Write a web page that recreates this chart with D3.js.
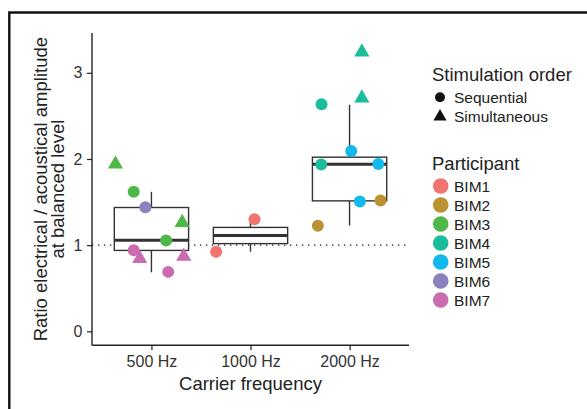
<!DOCTYPE html>
<html>
<head>
<meta charset="utf-8">
<script src="https://cdn.jsdelivr.net/npm/d3@7"></script>
<style>
  html, body { margin: 0; padding: 0; background: #fff; }
  svg { display: block; font-family: "Liberation Sans", Arial, Helvetica, sans-serif; }
</style>
</head>
<body>
<svg id="chart" width="587" height="409"></svg>
<script>
// ---- data ----
const categories = ["500 Hz", "1000 Hz", "2000 Hz"];
const yTicks = [0, 1, 2, 3];
const participants = ["BIM1", "BIM2", "BIM3", "BIM4", "BIM5", "BIM6", "BIM7"];
const participantColors = ["#F07470", "#BA9232", "#4DB848", "#1BBC9B", "#13B9EE", "#8B80C0", "#CB6CB0"];
const orders = ["Sequential", "Simultaneous"];

// box statistics per category
const boxLow    = [0.685, 0.924, 1.228];
const boxQ1     = [0.939, 1.018, 1.514];
const boxMedian = [1.057, 1.112, 1.939];
const boxQ3     = [1.437, 1.206, 2.021];
const boxHigh   = [1.619, 1.300, 2.630];

// points
const pointCategory    = [0,0,0,0,0,0,0,0,0, 1,1, 2,2,2,2,2,2,2,2,2];
const pointJitter      = [-0.363,-0.179,-0.061,0.310,0.148,-0.179,-0.118,0.326,0.169, 0.040,-0.347, 0.124,0.124,-0.283,0.017,-0.286,0.290,0.104,0.313,-0.320];
const pointValue       = [1.94,1.62,1.44,1.263,1.054,0.94,0.844,0.87,0.69, 1.30,0.924, 3.24,2.706,2.635,2.094,1.935,1.943,1.506,1.518,1.225];
const pointParticipant = ["BIM3","BIM3","BIM6","BIM3","BIM3","BIM7","BIM7","BIM7","BIM7", "BIM1","BIM1", "BIM4","BIM4","BIM4","BIM5","BIM4","BIM5","BIM5","BIM2","BIM2"];
const pointOrder       = ["Simultaneous","Sequential","Sequential","Simultaneous","Sequential","Sequential","Simultaneous","Simultaneous","Sequential", "Sequential","Sequential", "Simultaneous","Simultaneous","Sequential","Sequential","Sequential","Sequential","Sequential","Sequential","Sequential"];
const referenceLevel = 1;

// ---- drawing ----
const svg = d3.select("#chart");
const panel = {left: 92, right: 409, top: 33, bottom: 345.3};

const x = d3.scaleLinear().domain([0.4, 3.6]).range([panel.left, panel.right]);
const y = d3.scaleLinear().domain([-0.162, 3.462]).range([panel.bottom, panel.top]);
const color = d3.scaleOrdinal().domain(participants).range(participantColors);
const triSize = 100, circR = 6;

// outer frame
svg.append("path")
  .attr("d", "M9.3,409 L9.3,12.5 L587,12.5")
  .attr("fill", "none").attr("stroke", "#111").attr("stroke-width", 2.4);

// reference dotted line
svg.append("line")
  .attr("x1", panel.left).attr("x2", panel.right)
  .attr("y1", y(referenceLevel)).attr("y2", y(referenceLevel))
  .attr("stroke", "#111").attr("stroke-width", 1.3)
  .attr("stroke-dasharray", "1.3,4.7");

// boxes
const boxW = 0.75;
const boxes = categories.map((c, i) => ({i, lo: boxLow[i], q1: boxQ1[i], med: boxMedian[i], q3: boxQ3[i], hi: boxHigh[i]}));
const bg = svg.append("g").attr("stroke", "#333");
boxes.forEach(b => {
  const cx = x(b.i + 1);
  bg.append("line").attr("x1", cx).attr("x2", cx).attr("y1", y(b.q3)).attr("y2", y(b.hi)).attr("stroke-width", 1.4);
  bg.append("line").attr("x1", cx).attr("x2", cx).attr("y1", y(b.q1)).attr("y2", y(b.lo)).attr("stroke-width", 1.4);
  bg.append("rect")
    .attr("x", x(b.i + 1 - boxW / 2)).attr("width", x(b.i + 1 + boxW / 2) - x(b.i + 1 - boxW / 2))
    .attr("y", y(b.q3)).attr("height", y(b.q1) - y(b.q3))
    .attr("fill", "#fff").attr("stroke-width", 1.4);
  bg.append("line")
    .attr("x1", x(b.i + 1 - boxW / 2)).attr("x2", x(b.i + 1 + boxW / 2))
    .attr("y1", y(b.med)).attr("y2", y(b.med)).attr("stroke-width", 2.8);
});

// points
const pts = pointValue.map((v, i) => ({v, cat: pointCategory[i], j: pointJitter[i], p: pointParticipant[i], o: pointOrder[i]}));
svg.append("g").selectAll("path").data(pts).join("path")
  .attr("transform", d => `translate(${x(d.cat + 1 + d.j)},${y(d.v)})`)
  .attr("d", d => d.o === "Simultaneous"
      ? d3.symbol(d3.symbolTriangle, triSize)()
      : d3.symbol(d3.symbolCircle, Math.PI * circR * circR)())
  .attr("fill", d => color(d.p));

// axes
const xAxis = d3.axisBottom(x).tickValues([1, 2, 3]).tickFormat(d => categories[d - 1]).tickSize(5).tickSizeOuter(0).tickPadding(5);
const yAxis = d3.axisLeft(y).tickValues(yTicks).tickFormat(d3.format("d")).tickSize(5).tickSizeOuter(0).tickPadding(4.5);

const gx = svg.append("g").attr("transform", `translate(0,${panel.bottom})`).call(xAxis);
const gy = svg.append("g").attr("transform", `translate(${panel.left},0)`).call(yAxis);
[gx, gy].forEach(g => {
  g.select(".domain").attr("stroke", "#222").attr("stroke-width", 1.4);
  g.selectAll(".tick line").attr("stroke", "#222").attr("stroke-width", 1.2);
  g.selectAll(".tick text").attr("fill", "#333").attr("font-size", 16)
    .attr("font-family", "'Liberation Sans', Arial, Helvetica, sans-serif");
});
gx.select(".domain").attr("d", `M${panel.left},0H${panel.right}`);
gy.select(".domain").attr("d", `M0,${panel.top}V${panel.bottom}`);

// axis titles
svg.append("text")
  .attr("x", (panel.left + panel.right) / 2).attr("y", 389.5)
  .attr("text-anchor", "middle").attr("font-size", 18.5).attr("fill", "#222")
  .text("Carrier frequency");
const yt = svg.append("text")
  .attr("transform", `translate(0,${(panel.top + panel.bottom) / 2}) rotate(-90)`)
  .attr("text-anchor", "middle").attr("font-size", 18.5).attr("fill", "#222");
yt.append("tspan").attr("x", 0).attr("y", 47).text("Ratio electrical / acoustical amplitude");
yt.append("tspan").attr("x", 0).attr("y", 64).text("at balanced level");

// legend: stimulation order
const lg = svg.append("g");
lg.append("text").attr("x", 432).attr("y", 80.7).attr("font-size", 18.5).attr("fill", "#222").text("Stimulation order");
orders.forEach((o, i) => {
  const cy = 97.3 + i * 18.3;
  lg.append("path")
    .attr("transform", `translate(440,${cy + (o === "Simultaneous" ? 1 : 0)})`)
    .attr("d", o === "Simultaneous" ? d3.symbol(d3.symbolTriangle, 75)() : d3.symbol(d3.symbolCircle, Math.PI * 25)())
    .attr("fill", "#111");
  lg.append("text").attr("x", 454).attr("y", cy + 6).attr("font-size", 15.5).attr("fill", "#222").text(o);
});

// legend: participant
lg.append("text").attr("x", 432).attr("y", 170).attr("font-size", 18.5).attr("fill", "#222").text("Participant");
participants.forEach((p, i) => {
  const cy = 186 + i * 19;
  lg.append("circle").attr("cx", 440.7).attr("cy", cy).attr("r", 7.8).attr("fill", color(p));
  lg.append("text").attr("x", 454).attr("y", cy + 6).attr("font-size", 15.5).attr("fill", "#222").text(p);
});
</script>
</body>
</html>
